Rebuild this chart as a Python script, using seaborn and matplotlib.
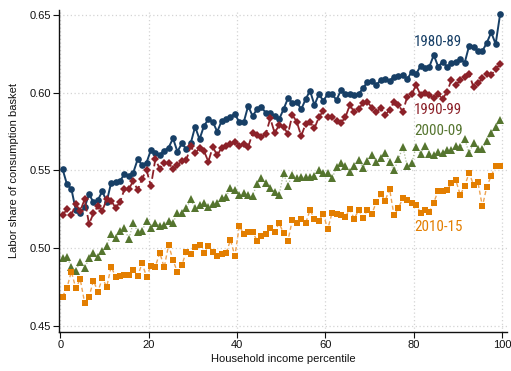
import numpy as np
import matplotlib
matplotlib.use("Agg")
import matplotlib.pyplot as plt
import matplotlib.ticker as mticker
import matplotlib.font_manager as fm
from matplotlib.textpath import TextPath
import seaborn as sns

# Household income percentile bins (bin centres)
percentile = np.arange(100) + 0.5

# Labor share of the consumption basket, by decade
share_1980_89 = [
    0.5510, 0.5411, 0.5381, 0.5245, 0.5224, 0.5263, 0.5347, 0.5295, 0.5310, 0.5366,
    0.5300, 0.5421, 0.5428, 0.5432, 0.5477, 0.5466, 0.5486, 0.5572, 0.5535, 0.5550,
    0.5632, 0.5611, 0.5600, 0.5628, 0.5647, 0.5707, 0.5621, 0.5675, 0.5637, 0.5675,
    0.5782, 0.5701, 0.5787, 0.5830, 0.5814, 0.5750, 0.5819, 0.5830, 0.5847, 0.5864,
    0.5811, 0.5811, 0.5916, 0.5851, 0.5894, 0.5907, 0.5872, 0.5872, 0.5851, 0.5830,
    0.5894, 0.5965, 0.5937, 0.5943, 0.5894, 0.5959, 0.6014, 0.5922, 0.5991, 0.5950,
    0.5991, 0.5991, 0.5954, 0.6019, 0.5993, 0.5991, 0.5986, 0.5993, 0.6030, 0.6072,
    0.6077, 0.6051, 0.6083, 0.6090, 0.6077, 0.6104, 0.6109, 0.6115, 0.6088, 0.6137,
    0.6122, 0.6173, 0.6162, 0.6169, 0.6244, 0.6169, 0.6201, 0.6169, 0.6191, 0.6201,
    0.6218, 0.6195, 0.6304, 0.6298, 0.6270, 0.6270, 0.6323, 0.6390, 0.6315, 0.6506,
]
share_1990_99 = [
    0.5211, 0.5250, 0.5213, 0.5284, 0.5239, 0.5314, 0.5155, 0.5224, 0.5271, 0.5241,
    0.5314, 0.5305, 0.5260, 0.5295, 0.5379, 0.5379, 0.5434, 0.5374, 0.5447, 0.5503,
    0.5400, 0.5574, 0.5510, 0.5548, 0.5548, 0.5510, 0.5535, 0.5563, 0.5568, 0.5656,
    0.5611, 0.5645, 0.5626, 0.5557, 0.5653, 0.5597, 0.5648, 0.5655, 0.5671, 0.5684,
    0.5661, 0.5673, 0.5651, 0.5740, 0.5729, 0.5718, 0.5735, 0.5836, 0.5742, 0.5793,
    0.5782, 0.5735, 0.5858, 0.5814, 0.5722, 0.5800, 0.5811, 0.5772, 0.5843, 0.5885,
    0.5847, 0.5843, 0.5821, 0.5808, 0.5843, 0.5922, 0.5877, 0.5894, 0.5937, 0.5941,
    0.5905, 0.5879, 0.5901, 0.5858, 0.5890, 0.5943, 0.5922, 0.5879, 0.5976, 0.5991,
    0.6051, 0.5986, 0.5997, 0.5986, 0.5965, 0.5991, 0.5961, 0.6008, 0.6083, 0.6051,
    0.6083, 0.6101, 0.6122, 0.6036, 0.6062, 0.6094, 0.6122, 0.6115, 0.6152, 0.6186,
]
share_2000_09 = [
    0.4933, 0.4941, 0.4880, 0.4854, 0.4912, 0.4870, 0.4934, 0.4966, 0.4945, 0.4983,
    0.5015, 0.5091, 0.5063, 0.5112, 0.5130, 0.5057, 0.5164, 0.5106, 0.5112, 0.5173,
    0.5128, 0.5164, 0.5142, 0.5149, 0.5177, 0.5164, 0.5224, 0.5228, 0.5256, 0.5314,
    0.5256, 0.5278, 0.5293, 0.5267, 0.5284, 0.5289, 0.5321, 0.5331, 0.5385, 0.5374,
    0.5340, 0.5353, 0.5340, 0.5336, 0.5413, 0.5450, 0.5418, 0.5390, 0.5361, 0.5342,
    0.5481, 0.5403, 0.5473, 0.5450, 0.5455, 0.5456, 0.5456, 0.5465, 0.5503, 0.5487,
    0.5487, 0.5450, 0.5521, 0.5550, 0.5529, 0.5492, 0.5529, 0.5568, 0.5514, 0.5561,
    0.5598, 0.5553, 0.5579, 0.5613, 0.5553, 0.5501, 0.5571, 0.5653, 0.5527, 0.5546,
    0.5653, 0.5605, 0.5659, 0.5608, 0.5600, 0.5618, 0.5613, 0.5630, 0.5634, 0.5655,
    0.5652, 0.5703, 0.5611, 0.5678, 0.5637, 0.5637, 0.5691, 0.5740, 0.5782, 0.5825,
]
share_2010_15 = [
    0.4687, 0.4745, 0.4848, 0.4741, 0.4799, 0.4648, 0.4687, 0.4790, 0.4719, 0.4805,
    0.4751, 0.4880, 0.4816, 0.4820, 0.4827, 0.4827, 0.4859, 0.4820, 0.4902, 0.4816,
    0.4885, 0.4880, 0.4970, 0.4875, 0.5020, 0.4923, 0.4844, 0.4891, 0.4977, 0.4962,
    0.5009, 0.5020, 0.4970, 0.5014, 0.4977, 0.4949, 0.4962, 0.4966, 0.5052, 0.4949,
    0.5142, 0.5091, 0.5106, 0.5106, 0.5048, 0.5078, 0.5091, 0.5128, 0.5106, 0.5160,
    0.5097, 0.5048, 0.5181, 0.5164, 0.5186, 0.5160, 0.5245, 0.5189, 0.5177, 0.5220,
    0.5121, 0.5228, 0.5220, 0.5213, 0.5202, 0.5250, 0.5189, 0.5245, 0.5196, 0.5245,
    0.5220, 0.5297, 0.5349, 0.5305, 0.5381, 0.5211, 0.5258, 0.5321, 0.5310, 0.5293,
    0.5280, 0.5228, 0.5245, 0.5233, 0.5293, 0.5371, 0.5368, 0.5374, 0.5418, 0.5436,
    0.5342, 0.5402, 0.5484, 0.5407, 0.5423, 0.5268, 0.5396, 0.5466, 0.5529, 0.5526,
]

series_labels = ["1980-89", "1990-99", "2000-09", "2010-15"]
label_y = [0.633, 0.589, 0.5755, 0.5138]
label_x = 80.0

x_ticks = [0, 20, 40, 60, 80, 100]
y_ticks = [0.45, 0.50, 0.55, 0.60, 0.65]

colors = ["#173f66", "#8c2129", "#55752f", "#e37e00"]
line_colors = ["#173f66", "#8c2129", "#a9bb95", "#eea454"]
styles = [
    dict(marker="o", markersize=4.8, linestyle="-", linewidth=1.4),
    dict(marker="D", markersize=4.0, linestyle=(0, (5, 2)), linewidth=1.3),
    dict(marker="^", markersize=5.6, linestyle=(0, (1, 1.5)), linewidth=0.9),
    dict(marker="s", markersize=4.8, linestyle=(0, (3, 2)), linewidth=1.0),
]

sns.set_theme(style="white")
plt.rcParams["font.family"] = ["Liberation Sans", "DejaVu Sans"]


def label_font(sample, max_size=11.5, max_width_px=46.0):
    """Prefer a narrow sans face for the in-plot labels; size it to fit."""
    narrow = []
    for f in fm.fontManager.ttflist:
        is_narrow = (f.stretch in ("condensed", "semi-condensed", "extra-condensed")
                     or "Narrow" in f.name or "Condensed" in f.name)
        if is_narrow and f.style == "normal" and str(f.weight) in ("400", "normal", "regular", "book"):
            narrow.append(f)
    order = ["Liberation Sans Narrow", "Arial Narrow", "Roboto Condensed",
             "Noto Sans", "Open Sans", "DejaVu Sans"]
    narrow.sort(key=lambda f: next((i for i, n in enumerate(order) if f.name.startswith(n)), 99))
    fp = (fm.FontProperties(fname=narrow[0].fname) if narrow
          else fm.FontProperties(family=["Liberation Sans", "DejaVu Sans"]))
    width_px = TextPath((0, 0), sample, size=10, prop=fp).get_extents().width * 100 / 72
    fp.set_size(min(max_size, 10 * max_width_px / width_px))
    return fp


fig = plt.figure(figsize=(5.11, 3.71), dpi=100)
ax = fig.add_axes([59 / 511, (371 - 331.7) / 371, 447.7 / 511, 321.8 / 371])

series = [share_1980_89, share_1990_99, share_2000_09, share_2010_15]
for values, c, lc, st in zip(series, colors, line_colors, styles):
    sns.lineplot(
        x=percentile, y=values, ax=ax, color=lc,
        markerfacecolor=c, markeredgecolor=c, markeredgewidth=0,
        **st,
    )

lab_fp = label_font(series_labels[0])
for text, y, c in zip(series_labels, label_y, colors):
    ax.text(label_x, y, text, color=c, ha="left", va="center", fontproperties=lab_fp)

ax.set_xlim(-0.3, 101)
ax.set_ylim(0.4461, 0.6535)
ax.set_xticks(x_ticks)
ax.set_yticks(y_ticks)
ax.yaxis.set_major_formatter(mticker.FormatStrFormatter("%.2f"))

ax.grid(True, color="#d4d4d4", linestyle=(0, (1, 2)), linewidth=0.9)
for side in ["top", "right"]:
    ax.spines[side].set_visible(False)
for side in ["left", "bottom"]:
    ax.spines[side].set_color("#111111")
    ax.spines[side].set_linewidth(1.0)

ax.tick_params(axis="both", direction="out", length=4, width=0.8, color="#111111",
               labelsize=8, labelcolor="#111111", pad=2,
               left=True, bottom=True)

ax.set_xlabel("Household income percentile", fontsize=8, color="#111111", labelpad=3)
ax.set_ylabel("Labor share of consumption basket", fontsize=8, color="#111111")
ax.yaxis.set_label_coords(-0.09, 0.5)

fig.savefig("out.png", dpi=100)
